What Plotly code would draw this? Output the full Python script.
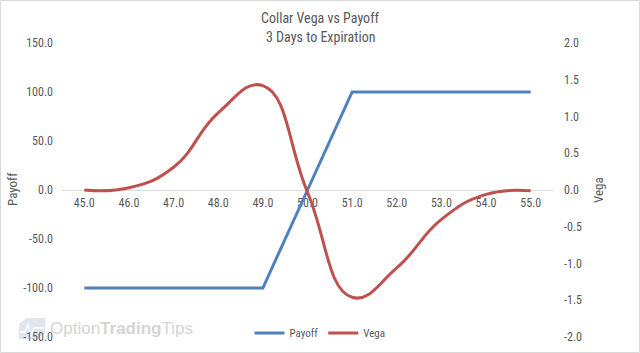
import plotly.graph_objects as go

# ---- data ----
strikes = [45, 46, 47, 48, 49, 50, 51, 52, 53, 54, 55]
payoff = [-100, -100, -100, -100, -100, 0, 100, 100, 100, 100, 100]
vega = [0.00, 0.03, 0.31, 1.05, 1.42, -0.03, -1.46, -1.06, -0.40, -0.06, -0.01]

x_tick_text = ["45.0", "46.0", "47.0", "48.0", "49.0", "50.0", "51.0", "52.0", "53.0", "54.0", "55.0"]
payoff_ticks = [-150, -100, -50, 0, 50, 100, 150]
payoff_tick_text = ["-150.0", "-100.0", "-50.0", "0.0", "50.0", "100.0", "150.0"]
vega_ticks = [-2.0, -1.5, -1.0, -0.5, 0.0, 0.5, 1.0, 1.5, 2.0]
vega_tick_text = ["-2.0", "-1.5", "-1.0", "-0.5", "0.0", "0.5", "1.0", "1.5", "2.0"]
title_lines = ["Collar Vega vs Payoff", "3 Days to Expiration"]

FONT = "Liberation Sans Narrow, Roboto Condensed, DejaVu Sans Condensed, Liberation Sans, sans-serif"
TXT = "#595959"
BLUE = "#4F81BD"
RED = "#C0504D"

fig = go.Figure()
fig.add_trace(go.Scatter(x=strikes, y=payoff, name="Payoff", mode="lines",
                         line=dict(color=BLUE, width=3), yaxis="y"))
fig.add_trace(go.Scatter(x=strikes, y=vega, name="Vega", mode="lines",
                         line=dict(color=RED, width=3, shape="spline", smoothing=1.3),
                         yaxis="y2"))

W, H = 640, 353
L, R, T, B = 62, 87, 43, 16
pw, ph = W - L - R, H - T - B

def px_x(px):
    return (px - L) / pw

def px_y(py):
    return (H - B - py) / ph

fig.update_layout(
    width=W, height=H,
    margin=dict(l=L, r=R, t=T, b=B, autoexpand=False),
    paper_bgcolor="white", plot_bgcolor="white",
    font=dict(family=FONT, size=12, color=TXT),
    xaxis=dict(range=[44.5, 55.5], tickvals=strikes, ticktext=x_tick_text,
               anchor="free", position=0.5, showline=True, linecolor="#D9D9D9",
               linewidth=1, showgrid=False, zeroline=False, ticks="",
               ticklabelstandoff=2,
               layer="below traces", tickfont=dict(size=12, color=TXT)),
    yaxis=dict(range=[-150, 150], tickvals=payoff_ticks, ticktext=payoff_tick_text,
               showgrid=False, zeroline=False, showline=False, ticks="",
               ticklabelstandoff=8,
               tickfont=dict(size=12, color=TXT)),
    yaxis2=dict(range=[-2, 2], tickvals=vega_ticks, ticktext=vega_tick_text,
                overlaying="y", side="right", showgrid=False, zeroline=False,
                ticklabelstandoff=10,
                showline=False, ticks="", tickfont=dict(size=12, color=TXT)),
    legend=dict(orientation="h", x=px_x(320), xanchor="center", y=px_y(333),
                yanchor="middle", font=dict(size=11, color=TXT), itemwidth=30,
                bgcolor="rgba(0,0,0,0)"),
    showlegend=True,
)

# title
for line, ypx in zip(title_lines, [18, 37]):
    fig.add_annotation(text=line, x=px_x(320), y=px_y(ypx), xref="paper", yref="paper",
                       xanchor="center", yanchor="middle", showarrow=False,
                       font=dict(size=14, color=TXT))

# axis titles
fig.add_annotation(text="Payoff", x=px_x(12), y=0.5, xref="paper", yref="paper",
                   xanchor="center", yanchor="middle",
                   textangle=-90, showarrow=False, font=dict(size=13, color=TXT))
fig.add_annotation(text="Vega", x=px_x(598), y=0.5, xref="paper", yref="paper",
                   xanchor="center", yanchor="middle",
                   textangle=-90, showarrow=False, font=dict(size=13, color=TXT))

# watermark
fig.add_shape(type="path", xref="paper", yref="paper", layer="below",
              path=f"M {px_x(19)},{px_y(339)} L {px_x(19)},{px_y(324)} L {px_x(27)},{px_y(318)} "
                   f"L {px_x(45)},{px_y(318)} L {px_x(45)},{px_y(333)} L {px_x(37)},{px_y(339)} Z",
              fillcolor="#E2E4EE", line=dict(width=0))
fig.add_shape(type="path", xref="paper", yref="paper", layer="below",
              path=f"M {px_x(20)},{px_y(332)} L {px_x(25)},{px_y(332)} L {px_x(28)},{px_y(325)} "
                   f"L {px_x(31)},{px_y(336)} L {px_x(34)},{px_y(328)} L {px_x(44)},{px_y(328)}",
              line=dict(color="white", width=1.5))
fig.add_annotation(text="Option<b>Trading</b>Tips", x=px_x(48), y=px_y(328),
                   xref="paper", yref="paper", xanchor="left", yanchor="middle",
                   showarrow=False, font=dict(family="Liberation Sans, sans-serif", size=17,
                                               color="#D4D4D4"))

# chart border
fig.add_shape(type="rect", xref="paper", yref="paper", layer="below",
              x0=px_x(0.5), x1=px_x(W - 0.5), y0=px_y(H - 0.5), y1=px_y(0.5),
              line=dict(color="#D9D9D9", width=1))

fig.write_html("out.html")
